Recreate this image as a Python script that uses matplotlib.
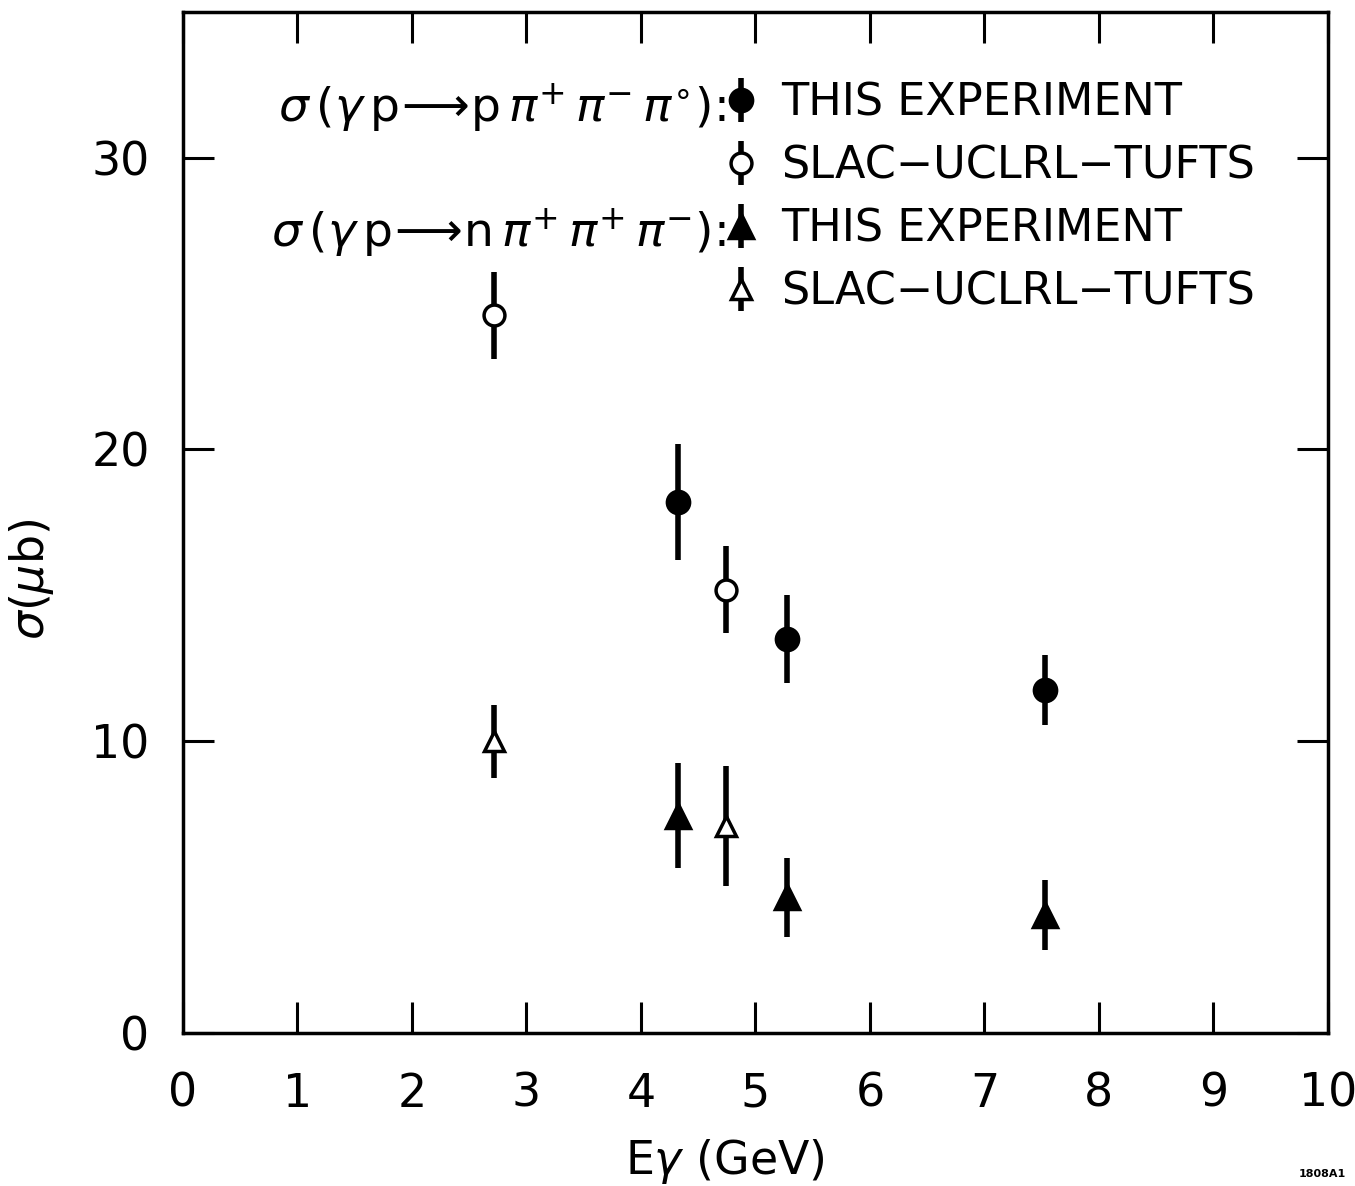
import matplotlib
matplotlib.use("Agg")
import matplotlib.pyplot as plt
from matplotlib.ticker import FixedLocator

plt.rcParams['font.family'] = ['DejaVu Sans']
plt.rcParams['mathtext.fontset'] = 'dejavusans'

# Data: sigma(gamma p -> p pi+ pi- pi0)
e_this_3pi = [4.32, 5.28, 7.53]
s_this_3pi = [18.2, 13.5, 11.75]
err_this_3pi = [2.0, 1.5, 1.2]

e_slac_3pi = [2.72, 4.74]
s_slac_3pi = [24.6, 15.2]
err_slac_3pi = [1.5, 1.5]

# sigma(gamma p -> n pi+ pi+ pi-)
e_this_n3pi = [4.32, 5.28, 7.53]
s_this_n3pi = [7.45, 4.65, 4.05]
err_this_n3pi = [1.8, 1.35, 1.2]

e_slac_n3pi = [2.72, 4.74]
s_slac_n3pi = [10.0, 7.1]
err_slac_n3pi = [1.25, 2.05]

x_ticks = [0, 1, 2, 3, 4, 5, 6, 7, 8, 9, 10]
y_ticks = [0, 10, 20, 30]

fig = plt.figure(figsize=(13.55, 11.86), dpi=100)
ax = fig.add_axes([0.135, 0.129, 0.845, 0.861])

lw = 4.0
common = dict(linestyle='none', ecolor='black', elinewidth=lw, capsize=0,
              color='black', markeredgewidth=2.5)
h1 = ax.errorbar(e_this_3pi, s_this_3pi, yerr=err_this_3pi, fmt='o',
                 markersize=16, markerfacecolor='black', **common)
h2 = ax.errorbar(e_slac_3pi, s_slac_3pi, yerr=err_slac_3pi, fmt='o',
                 markersize=15, markerfacecolor='white', **common)
h3 = ax.errorbar(e_this_n3pi, s_this_n3pi, yerr=err_this_n3pi, fmt='^',
                 markersize=17, markerfacecolor='black', **common)
h4 = ax.errorbar(e_slac_n3pi, s_slac_n3pi, yerr=err_slac_n3pi, fmt='^',
                 markersize=15, markerfacecolor='white', **common)

ax.set_xlim(0, 10)
ax.set_ylim(0, 35)
ax.xaxis.set_major_locator(FixedLocator(x_ticks))
ax.yaxis.set_major_locator(FixedLocator(y_ticks))
ax.set_xticklabels([str(t) for t in x_ticks])
ax.set_yticklabels([str(t) for t in y_ticks])
ax.tick_params(axis='both', which='major', direction='in', length=22,
               width=2.2, labelsize=33, top=True, right=True)
ax.tick_params(axis='x', pad=28)
ax.tick_params(axis='y', pad=24)
for sp in ax.spines.values():
    sp.set_linewidth(2.5)

ax.set_xlabel(r'E$\gamma$ (GeV)', fontsize=33)
ax.xaxis.set_label_coords(0.473, -0.102)
ax.set_ylabel(r'$\sigma$($\mu$b)', fontsize=33)
ax.yaxis.set_label_coords(-0.111, 0.444)

leg = ax.legend([h1, h2, h3, h4],
                ['THIS EXPERIMENT', 'SLAC\u2212UCLRL\u2212TUFTS',
                 'THIS EXPERIMENT', 'SLAC\u2212UCLRL\u2212TUFTS'],
                loc='upper left', bbox_to_anchor=(0.470, 0.932),
                frameon=False, fontsize=32, handlelength=0.9,
                handletextpad=0.45, labelspacing=0.45, borderaxespad=0,
                borderpad=0)

ax.text(0.474, 0.912,
        r'$\sigma\,(\gamma\,\mathrm{p}\!\longrightarrow\!\mathrm{p}\,\pi^{+}\,\pi^{-}\,\pi^{\circ})$:',
        transform=ax.transAxes, fontsize=34, ha='right', va='center_baseline')
ax.text(0.474, 0.789,
        r'$\sigma\,(\gamma\,\mathrm{p}\!\longrightarrow\!\mathrm{n}\,\pi^{+}\,\pi^{+}\,\pi^{-})$:',
        transform=ax.transAxes, fontsize=34, ha='right', va='center_baseline')

fig.text(0.993, 0.006, '1808A1', fontsize=8, fontweight='bold',
         ha='right', va='bottom')

fig.savefig('out.png', dpi=100)
